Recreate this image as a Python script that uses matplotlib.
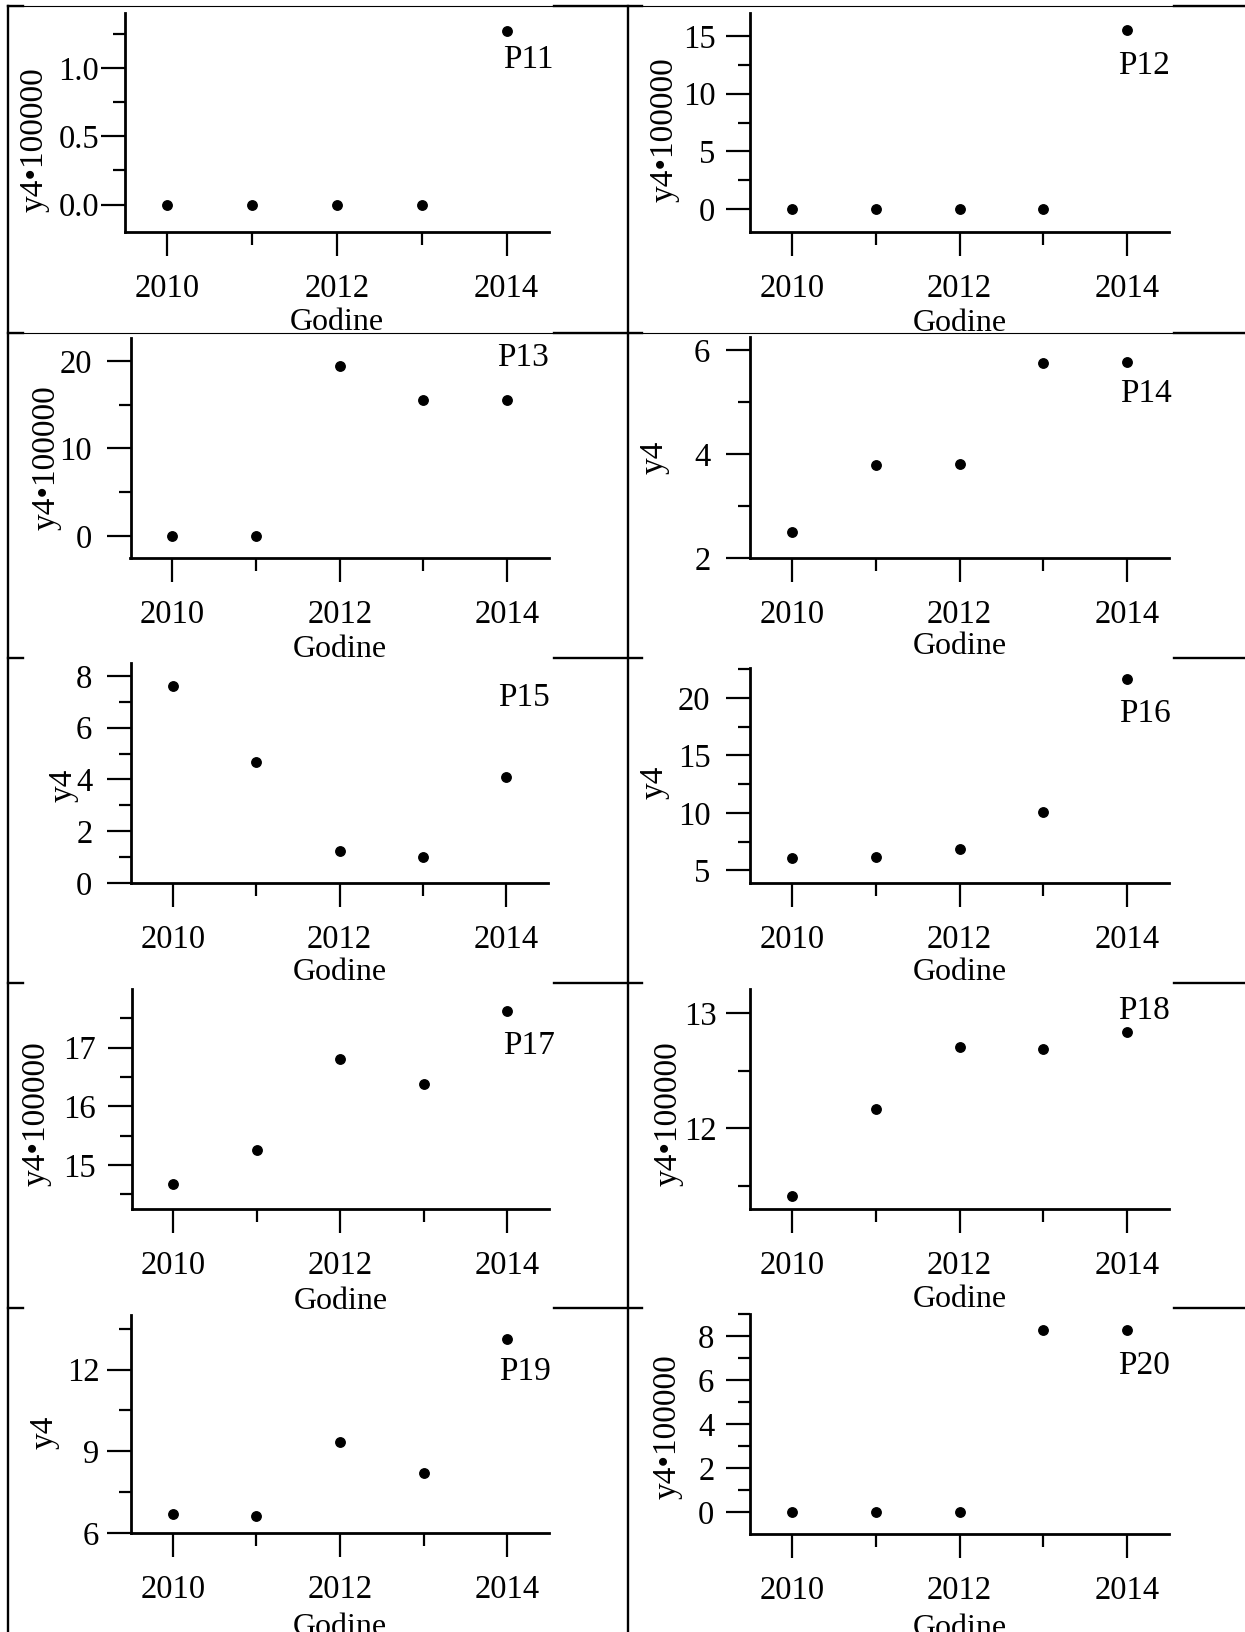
import matplotlib
matplotlib.use("Agg")
import matplotlib.pyplot as plt
from matplotlib.lines import Line2D
from matplotlib.ticker import FixedLocator

plt.rcParams["font.family"] = ["Liberation Serif", "DejaVu Serif"]
plt.rcParams["font.size"] = 23

W, H = 1245, 1632  # canvas in px (dpi 100)

years = [2010, 2011, 2012, 2013, 2014]

p11 = [0, 0, 0, 0, 1.27]
p12 = [0, 0, 0, 0, 15.5]
p13 = [0, 0, 19.4, 15.5, 15.5]
p14 = [2.5, 3.8, 3.81, 5.76, 5.78]
p15 = [7.61, 4.68, 1.25, 1.01, 4.10]
p16 = [6.1, 6.18, 6.9, 10.1, 21.65]
p17 = [14.67, 15.25, 16.80, 16.38, 17.63]
p18 = [11.41, 12.165, 12.71, 12.69, 12.835]
p19 = [6.69, 6.63, 9.34, 8.19, 13.12]
p20 = [0, 0, 0, 8.26, 8.29]

names = ["P11", "P12", "P13", "P14", "P15", "P16", "P17", "P18", "P19", "P20"]
series = [p11, p12, p13, p14, p15, p16, p17, p18, p19, p20]
ylabels = ["y4•100000", "y4•100000", "y4•100000", "y4", "y4",
           "y4", "y4•100000", "y4•100000", "y4", "y4•100000"]

ylims = [(-0.2, 1.4), (-2, 17), (-2.5, 22.6), (2, 6.26), (0, 8.5),
         (3.9, 22.6), (14.25, 18.0), (11.3, 13.21), (6, 14), (-1, 9)]
ymajor = [[0, 0.5, 1.0], [0, 5, 10, 15], [0, 10, 20], [2, 4, 6], [0, 2, 4, 6, 8],
          [5, 10, 15, 20], [15, 16, 17], [12, 13], [6, 9, 12], [0, 2, 4, 6, 8]]
yminor = [[0.25, 0.75, 1.25], [2.5, 7.5, 12.5], [5, 15], [3, 5], [1, 3, 5, 7],
          [7.5, 12.5, 17.5, 22.5], [14.5, 15.5, 16.5, 17.5], [11.5, 12.5],
          [7.5, 10.5, 13.5], [1, 3, 5, 7, 9]]
yfmt = ["{:.1f}"] + ["{:.0f}"] * 9

xmajor = [2010, 2012, 2014]
xminor = [2011, 2013]

# panel boxes in px: left, top, right, bottom
boxes = [(124.5, 13, 549, 232), (750, 13, 1169, 232),
         (130.5, 338, 549, 558), (750, 337, 1169, 558),
         (131, 663, 548, 883), (750, 668, 1169, 883),
         (131.7, 989, 549, 1209), (750, 989, 1169, 1209),
         (131, 1315, 549, 1533), (750, 1314, 1169, 1534)]
ytick_gap = [2, 11, 15, 16, 15, 16, 12, 10, 8, 12]
ylab_off = [(74.5, 17), (70, 7.5), (68.5, 9.5), (80, 10), (52, 12),
            (80, 7), (80, 15), (66, 15), (71, 8), (67, 3)]
xlab_off = [76, 77, 77, 74, 75, 75, 78, 76, 80, 80]
tag_pos = [(528, 45), (1144.5, 51), (523, 343), (1145.7, 378), (524, 683),
           (1144.5, 698), (529, 1031), (1143.6, 995), (525, 1356), (1143.6, 1351)]

fig = plt.figure(figsize=(W / 100, H / 100), dpi=100)
fig.patch.set_facecolor("white")

for i, ys in enumerate(series):
    l, t, r, b = boxes[i]
    aw, ah = r - l, b - t
    ax = fig.add_axes([l / W, 1 - b / H, aw / W, ah / H])
    ax.set_facecolor("none")
    ax.plot(years, ys, "o", color="black", ms=6.8, clip_on=False)
    ax.set_xlim(2009.5, 2014.5)
    ax.set_ylim(*ylims[i])
    for s in ("top", "right"):
        ax.spines[s].set_visible(False)
    for s in ("left", "bottom"):
        ax.spines[s].set_linewidth(2.0)

    ax.xaxis.set_major_locator(FixedLocator(xmajor))
    ax.xaxis.set_minor_locator(FixedLocator(xminor))
    ax.set_xticklabels([str(x) for x in xmajor])
    ax.yaxis.set_major_locator(FixedLocator(ymajor[i]))
    ax.yaxis.set_minor_locator(FixedLocator(yminor[i]))
    ax.set_yticklabels([yfmt[i].format(v) for v in ymajor[i]])
    ax.tick_params(which="major", length=17, width=1.6, direction="out", labelsize=23.5)
    ax.tick_params(which="minor", length=9, width=1.6, direction="out")
    ax.tick_params(axis="x", which="major", pad=13)
    ax.tick_params(axis="y", which="major", pad=ytick_gap[i] * 0.72)

    dx, dy = ylab_off[i]
    ax.set_ylabel(ylabels[i], fontsize=24)
    ax.yaxis.set_label_coords(-dx / aw, 0.5 - dy / ah)
    ax.set_xlabel("Godine", fontsize=23)
    ax.xaxis.set_label_coords(0.5, -xlab_off[i] / ah)

    cx, ty = tag_pos[i]
    ax.text((cx - l) / aw, 1 - (ty - t) / ah, names[i], transform=ax.transAxes,
            ha="center", va="top", fontsize=24, clip_on=False)

# table grid around the panels
col_x = [8, 628]
row_y = [6, 333, 658, 983, 1308]
img_span = [(23, 554), (642, 1174)]


def hline(x0, x1, y, lw):
    fig.add_artist(Line2D([x0 / W, x1 / W], [1 - y / H, 1 - y / H],
                          transform=fig.transFigure, color="black", lw=lw))


for x in col_x:
    fig.add_artist(Line2D([x / W, x / W], [1 - row_y[0] / H, 0],
                          transform=fig.transFigure, color="black", lw=1.7))

for k, y in enumerate(row_y):
    gaps = [(col_x[0], img_span[0][0]), (img_span[0][1], img_span[1][0]), (img_span[1][1], W)]
    if k < 2:
        hline(col_x[0], W, y, 0.8)
    for x0, x1 in gaps:
        hline(x0, x1, y, 1.7)

fig.savefig("out.png", dpi=100, facecolor="white")
